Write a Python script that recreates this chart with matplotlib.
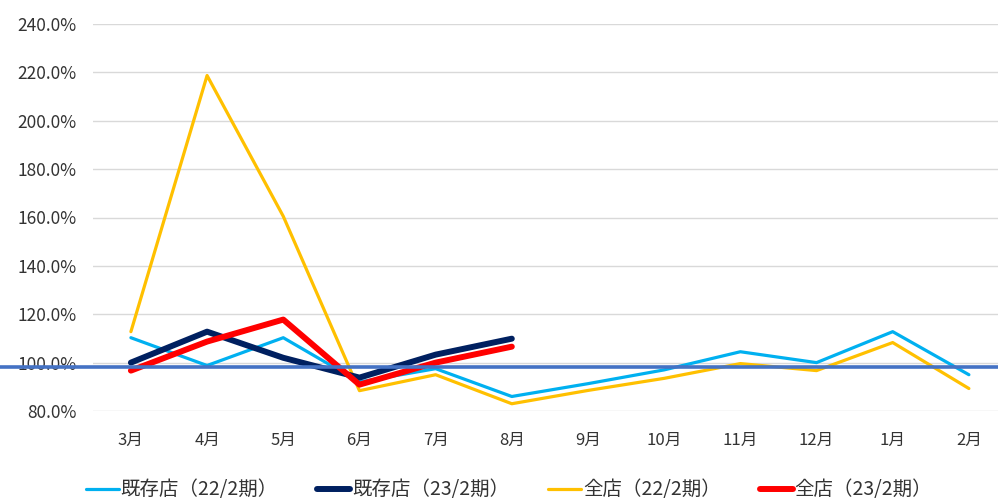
import matplotlib.pyplot as plt
from matplotlib.ticker import FuncFormatter

plt.rcParams['font.family'] = ['Noto Sans CJK JP', 'DejaVu Sans']

months = ['3月', '4月', '5月', '6月', '7月', '8月', '9月', '10月', '11月', '12月', '1月', '2月']

# 前年同月比 (%)
existing_22 = [110.3, 98.8, 110.3, 92.0, 97.5, 86.0, 91.3, 97.0, 104.5, 100.0, 112.8, 95.0]
all_22 = [112.8, 218.7, 160.5, 88.4, 95.0, 83.0, 88.5, 93.5, 99.6, 96.7, 108.3, 89.3]
existing_23 = [100.0, 112.8, 102.0, 93.8, 103.3, 109.9]
all_23 = [96.7, 108.7, 117.8, 90.9, 100.0, 106.6]
baseline = 98.3

y_ticks = [80, 100, 120, 140, 160, 180, 200, 220, 240]

fig = plt.figure(figsize=(9.98, 5.0), dpi=100)
ax = fig.add_axes([0.093, 0.178, 0.916, 0.774])

x = list(range(len(months)))
ax.plot(x, existing_22, color='#00B0F0', lw=2.3, solid_joinstyle='round',
        solid_capstyle='round', label='既存店（22/2期）', zorder=3)
ax.plot(x, all_22, color='#FFC000', lw=2.3, solid_joinstyle='round',
        solid_capstyle='round', label='全店（22/2期）', zorder=3)
ax.plot(x[:len(existing_23)], existing_23, color='#002060', lw=4.3,
        solid_joinstyle='round', solid_capstyle='round',
        label='既存店（23/2期）', zorder=4)
ax.plot(x[:len(all_23)], all_23, color='#FF0000', lw=4.3,
        solid_joinstyle='round', solid_capstyle='round',
        label='全店（23/2期）', zorder=5)

# base line runs across the whole width of the figure
left = ax.get_position().x0
width = ax.get_position().width
ax.axhline(baseline, xmin=-left / width, xmax=(1 - left) / width,
           color='#4472C4', lw=2.6, clip_on=False, zorder=6)

ax.set_xlim(-0.5, len(months) - 0.5)
ax.set_ylim(y_ticks[0], y_ticks[-1])
ax.set_xticks(x)
ax.set_xticklabels(months)
ax.set_yticks(y_ticks)
ax.yaxis.set_major_formatter(FuncFormatter(lambda v, p: f'{v:.1f}%'))
ax.grid(axis='y', color='#D9D9D9', lw=1.0)
ax.set_axisbelow(True)
for s in ax.spines.values():
    s.set_visible(False)
ax.tick_params(axis='x', length=0, pad=15, labelsize=12, colors='#333333')
ax.tick_params(axis='y', length=0, pad=12, labelsize=12.5, colors='#333333')

handles, labels = ax.get_legend_handles_labels()
order = [0, 2, 1, 3]
fig.legend([handles[i] for i in order], [labels[i] for i in order],
           loc='lower center', bbox_to_anchor=(0.51, -0.036), ncol=4,
           frameon=False, fontsize=14, handlelength=1.7, handletextpad=0.1,
           columnspacing=2.0, labelcolor='#333333')

fig.savefig('out.png', dpi=100)
